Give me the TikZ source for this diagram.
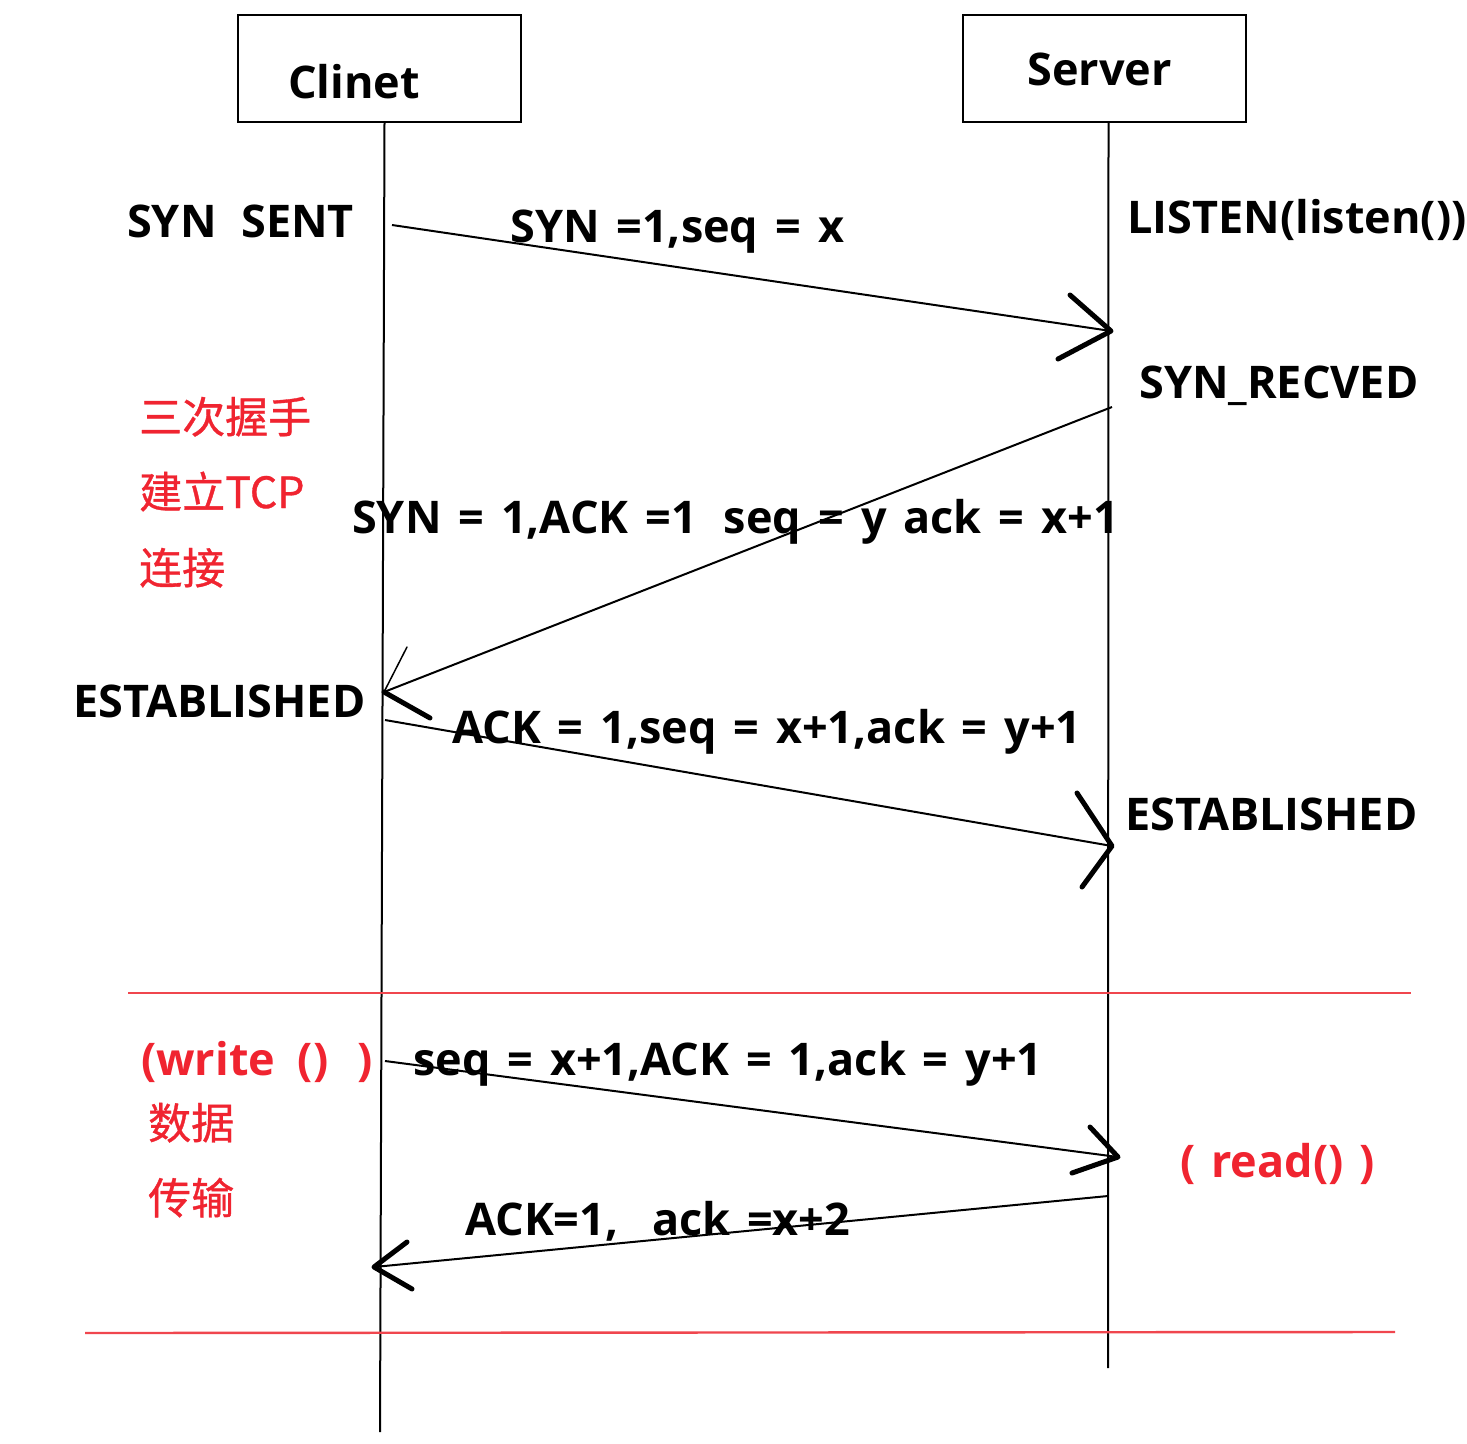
\documentclass[tikz,border=0pt]{standalone}
\usepackage{fontspec}
\setmainfont{Open Sans}[WordSpace=1.45]
\newfontfamily\cjk{Noto Sans CJK SC}[FakeBold=0.8]
\definecolor{notered}{RGB}{240,36,48}
\definecolor{sepred}{RGB}{240,70,78}

\begin{document}
\begin{tikzpicture}[x=1pt,y=-1pt,
  lbl/.style={font=\fontsize{45}{50}\selectfont\bfseries, inner sep=0pt, anchor=base west},
  note/.style={font=\fontsize{43}{50}\selectfont\cjk, text=notered, inner sep=0pt, anchor=base west},
  rnote/.style={font=\fontsize{45}{50}\selectfont\bfseries, text=notered, inner sep=0pt, anchor=base west},
  actor/.style={draw, line width=2pt, minimum width=283pt, minimum height=107pt, inner sep=0pt},
  life/.style={line width=2pt},
  msg/.style={line width=2pt},
  barb/.style={line width=5pt, line cap=round, line join=round},
  thinbarb/.style={line width=1.5pt, line cap=round},
  sepline/.style={draw=sepred, line width=2.4pt}]
\useasboundingbox (0,0) rectangle (1467,1443);
\fill[white] (0,0) rectangle (1467,1443);

% participants
\node[actor] (client) at (379.5,68.5) {};
\node[lbl] (clientname) at (288,98) {Clinet};
\node[actor] (server) at (1104.5,68.5) {};
\node[lbl] (servername) at (1027,85) {Server};

% lifelines
\coordinate (clend) at (380,1432);
\coordinate (svend) at (1108,1368);
\draw[life] ([xshift=5pt]client.south) -- (clend);
\draw[life] ([xshift=4pt]server.south) -- (svend);

% message end points on the lifelines
\coordinate (m1s) at (392,225);
\coordinate (m1e) at (1111,331);
\coordinate (m2s) at (1112,407);
\coordinate (m2e) at (384,692);
\coordinate (m3s) at (385,720);
\coordinate (m3e) at (1112,846);
\coordinate (m4s) at (385,1061);
\coordinate (m4e) at (1118,1157);
\coordinate (m5s) at (1108,1196);
\coordinate (m5e) at (374,1267);

% states
\node[lbl] (synsent) at (127,237) {SYN\hspace{0.55em}SENT};
\node[lbl] (listen) at (1127,233) {LISTEN(listen())};
\node[lbl] (synrecv) at (1139,398) {SYN\_RECVED};
\node[lbl] (estc) at (73,717) {ESTABLISHED};
\node[lbl] (ests) at (1125,830) {ESTABLISHED};

% handshake messages
\draw[msg] (m1s) -- (m1e);
\draw[barb] (m1e) ++(-41,-36) -- (m1e) -- ++(-53,28);
\node[lbl] (l1) at (510,242) {SYN =1,seq = x};

\draw[msg] (m2s) -- (m2e);
\draw[thinbarb] (m2e) -- ++(23,-45);
\draw[barb] (m2e) -- ++(46,26);
\node[lbl] (l2) at (352,533) {SYN = 1,ACK =1\hspace{0.6em}seq = y ack = x+1};

\draw[msg] (m3s) -- (m3e);
\draw[barb] (m3e) ++(-35,-53) -- (m3e) -- ++(-30,41);
\node[lbl] (l3) at (452,743) {ACK = 1,seq = x+1,ack = y+1};

% section separators
\coordinate (s1a) at (128,993);
\coordinate (s1b) at (1411,993);
\coordinate (s2a) at (85,1333);
\coordinate (s2b) at (1395,1332);
\draw[sepline] (s1a) -- (s1b);
\draw[sepline] (s2a) -- (s2b);

% data transfer messages
\draw[msg] (m4s) -- (m4e);
\draw[barb] (m4e) ++(-28,-30) -- (m4e) -- ++(-46,16);
\node[lbl] (l4) at (413,1075) {seq = x+1,ACK = 1,ack = y+1};

\draw[msg] (m5s) -- (m5e);
\draw[barb] (m5e) ++(33,-25) -- (m5e) -- ++(38,22);
\node[lbl] (l5) at (465,1235) {ACK=1,\hspace{0.75em}ack =x+2};

% side notes
\node[note] (n1) at (139,433) {三次握手};
\node[note] (n2) at (139,508) {建立TCP};
\node[note] (n3) at (139,584) {连接};
\node[rnote] (w) at (141,1075) {(write\hspace{0.5em}()\hspace{0.65em})};
\node[note] (n4) at (148,1139) {数据};
\node[note] (n5) at (148,1214) {传输};
\node[rnote] (r) at (1180,1177) {(\hspace{0.35em}read()\hspace{0.35em})};
\end{tikzpicture}
\end{document}
